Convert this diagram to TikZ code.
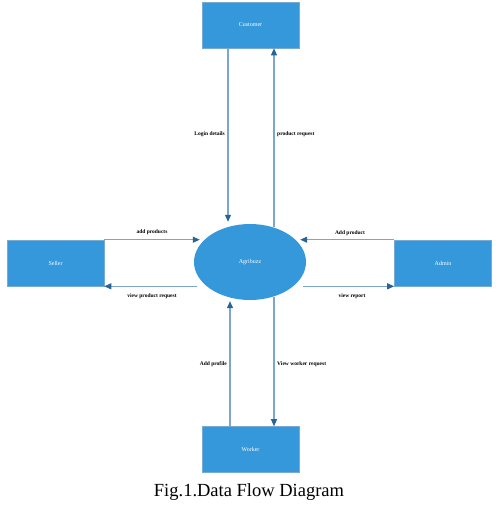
\documentclass[tikz,border=0pt]{standalone}
\usepackage{fontspec}
\setmainfont{Liberation Serif}
\usetikzlibrary{arrows.meta,shapes.geometric}
\definecolor{boxblue}{RGB}{52,152,219}
\definecolor{edgeblue}{RGB}{120,170,210}
\definecolor{linecol}{RGB}{125,165,205}
\definecolor{tipcol}{RGB}{40,100,150}
\tikzset{
  entity/.style={draw=edgeblue, line width=0.6pt, fill=boxblue, minimum width=97pt, minimum height=46pt, inner sep=0pt, text=white, font=\fontsize{6}{7}\selectfont},
  proc/.style={ellipse, fill=boxblue, draw=none, minimum width=112pt, minimum height=76pt, inner sep=0pt, text=white, font=\fontsize{6}{7}\selectfont},
  flow/.style={draw=linecol, line width=1.1pt, -{Triangle[length=7pt,width=6pt,color=tipcol]}},
  lbl/.style={font=\bfseries\fontsize{5.5}{6.5}\selectfont, inner sep=1pt, text=black}
}
\begin{document}
\begin{tikzpicture}[x=1pt,y=-1pt]
\useasboundingbox (0,0) rectangle (498,505);
\node[entity] (cust) at (250.5,25) {Customer};
\node[entity] (sell) at (55.5,263) {Seller};
\node[entity] (admin) at (443,263) {Admin};
\node[entity] (work) at (250.5,449.5) {Worker};
\node[proc] (ell) at (250,262) {Agribuzz};
\node[font=\fontsize{18.5}{22}\selectfont] (cap) at (249,492) {Fig.1.Data Flow Diagram};
% Customer
\draw[flow] ([xshift=-22.5pt]cust.south) -- ([xshift=-22pt,yshift=2pt]ell.north);
\draw[flow] ([xshift=24pt,yshift=-3pt]ell.north) -- ([xshift=23.5pt]cust.south);
\node[lbl, anchor=east] (l1) at (226,134) {Login details};
\node[lbl, anchor=west] (l2) at (276,134) {product request};
% Seller
\draw[flow] (sell.north east) -- ([xshift=6pt]ell.west |- sell.north east);
\draw[flow] ([xshift=3pt]ell.west |- sell.south east) -- (sell.south east);
\node[lbl] (l3) at (152,232) {add products};
\node[lbl] (l4) at (152,296) {view product request};
% Admin
\draw[flow] (admin.north west) -- ([xshift=-6pt]ell.east |- admin.north west);
\draw[flow] ([xshift=-3pt]ell.east |- admin.south west) -- (admin.south west);
\node[lbl] (l5) at (350,233) {Add product};
\node[lbl] (l6) at (352,296) {view report};
% Worker
\draw[flow] ([xshift=-20.5pt]work.north) -- ([xshift=-20pt,yshift=-1pt]ell.south);
\draw[flow] ([xshift=24pt,yshift=3pt]ell.south) -- ([xshift=23.5pt]work.north);
\node[lbl, anchor=east] (l7) at (228,364) {Add profile};
\node[lbl, anchor=west] (l8) at (276,364) {View worker request};
\end{tikzpicture}
\end{document}
